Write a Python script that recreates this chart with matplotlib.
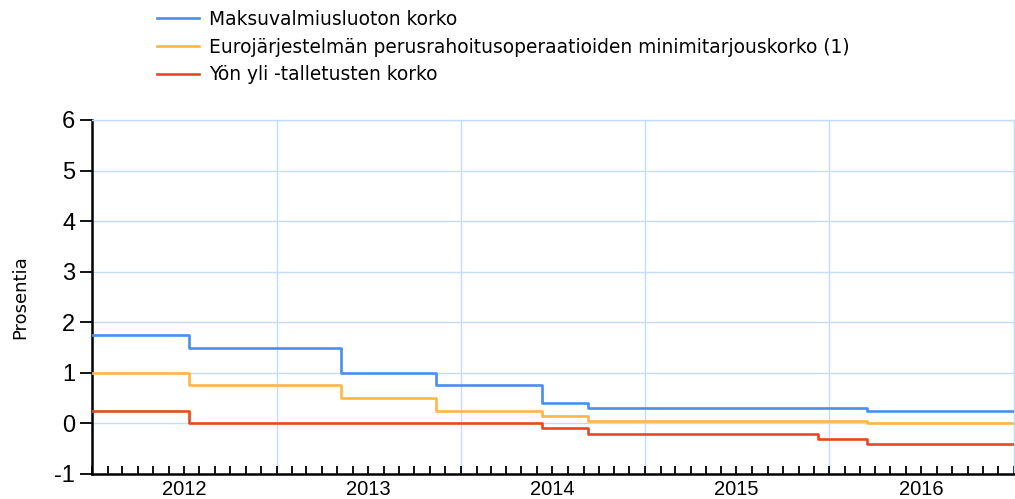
import matplotlib
matplotlib.use("Agg")
import matplotlib.pyplot as plt
import matplotlib.dates as mdates
import datetime as dt

plt.rcParams['font.family'] = ['Liberation Sans', 'DejaVu Sans']
plt.rcParams['axes.unicode_minus'] = False

# Change dates (step "post") and rates, %
change_dates = ["2012-01-01", "2012-07-11", "2013-05-08", "2013-11-13",
                "2014-06-11", "2014-09-10", "2015-12-09", "2016-03-16", "2016-12-31"]
mlf_rate = [1.75, 1.50, 1.00, 0.75, 0.40, 0.30, 0.30, 0.25, 0.25]
mro_rate = [1.00, 0.75, 0.50, 0.25, 0.15, 0.05, 0.05, 0.00, 0.00]
df_rate = [0.25, 0.00, 0.00, 0.00, -0.10, -0.20, -0.30, -0.40, -0.40]

labels = ["Maksuvalmiusluoton korko",
          "Eurojärjestelmän perusrahoitusoperaatioiden minimitarjouskorko (1)",
          "Yön yli -talletusten korko"]
colors = ["#4a8ef0", "#ffb548", "#e54a1f"]
y_ticks = [-1, 0, 1, 2, 3, 4, 5, 6]
years = [2012, 2013, 2014, 2015, 2016]

dates = [dt.datetime.strptime(d, "%Y-%m-%d") for d in change_dates]

fig = plt.figure(figsize=(10.15, 4.99), dpi=100)
ax = fig.add_axes([92/1015, 1 - 474/499, (1014 - 92)/1015, (474 - 120)/499])

lines = []
for vals, col, lab in zip([mlf_rate, mro_rate, df_rate], colors, labels):
    l, = ax.step(dates, vals, where="post", color=col, lw=1.9, label=lab, zorder=3)
    lines.append(l)

ax.set_xlim(dt.datetime(years[0], 1, 1), dt.datetime(years[-1] + 1, 1, 1))
ax.set_ylim(y_ticks[0], y_ticks[-1])
ax.set_yticks(y_ticks)
ax.set_yticklabels([str(v) for v in y_ticks])

ax.xaxis.set_major_locator(mdates.YearLocator())
ax.xaxis.set_major_formatter(plt.NullFormatter())
ax.xaxis.set_minor_locator(mdates.MonthLocator(bymonth=range(2, 13)))
ax.xaxis.set_minor_formatter(plt.FuncFormatter(
    lambda x, p: str(mdates.num2date(x).year) if mdates.num2date(x).month == 7 else ""))

ax.grid(True, which="major", color="#c5dbfa", lw=1.0, zorder=0)
ax.tick_params(axis="x", which="both", direction="in", length=6, width=1.3,
               colors="black", labelsize=14.5, pad=4)
ax.tick_params(axis="y", direction="out", length=9, width=1.3, labelsize=17, pad=3)

for s in ["left", "bottom"]:
    ax.spines[s].set_linewidth(1.8)
    ax.spines[s].set_color("black")
for s in ["top", "right"]:
    ax.spines[s].set_color("#c5dbfa")
    ax.spines[s].set_linewidth(1.0)

fig.text(20/1015, 1 - 297/499, "Prosentia", rotation=90, ha="center", va="center",
         fontsize=13, family="DejaVu Sans")

fig.legend(handles=lines, loc="upper left", bbox_to_anchor=(157/1015, 1 - 10/499),
           frameon=False, prop={"family": "DejaVu Sans", "size": 13.4},
           handlelength=2.25, handletextpad=0.55, labelspacing=0.47,
           borderaxespad=0, borderpad=0)

fig.savefig("out.png", dpi=100)
